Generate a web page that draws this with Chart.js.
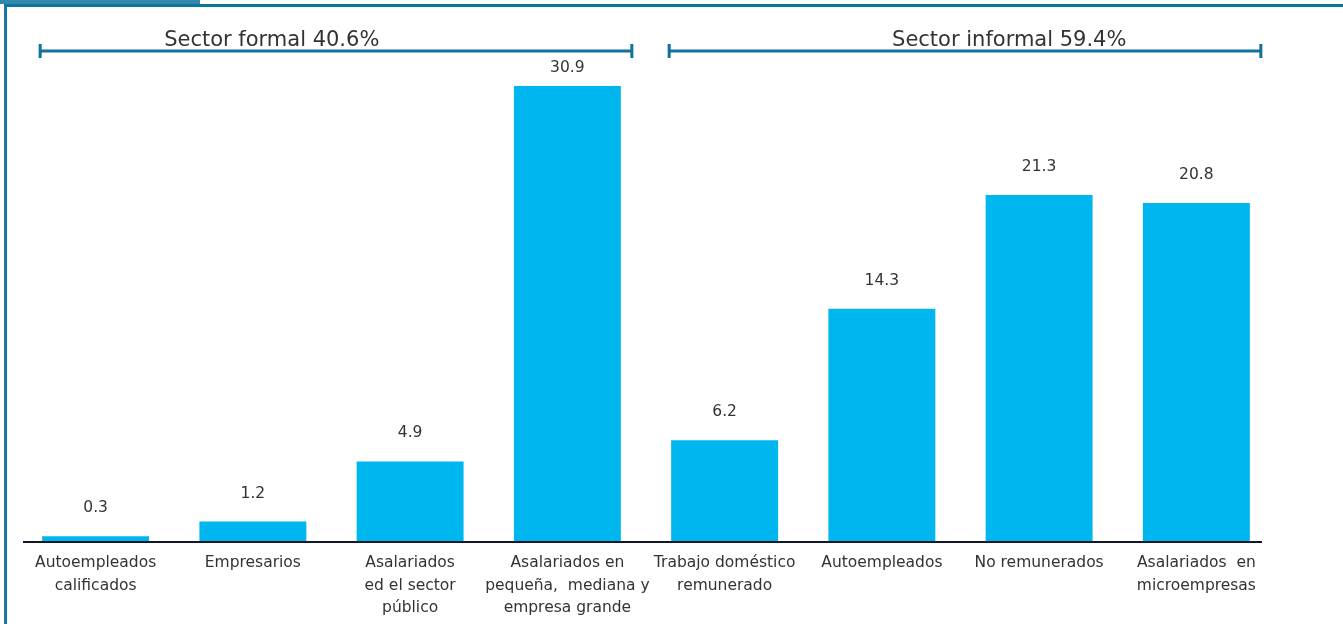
<!DOCTYPE html>
<html>
<head>
<meta charset="utf-8">
<script src="https://cdn.jsdelivr.net/npm/chart.js@4"></script>
<style>
  html, body { margin: 0; padding: 0; background: #fff; }
  #wrap { position: relative; width: 1343px; height: 624px; overflow: hidden; }
  #tab { position: absolute; left: 0; top: 0; width: 200px; height: 4px; background: #2e89aa; }
  #frame { position: absolute; left: 4px; top: 4px; right: 0; bottom: 0; border-top: 3px solid #0b75a0; border-left: 3px solid #1478a2; }
  canvas { position: absolute; left: 0; top: 0; }
</style>
</head>
<body>
<div id="wrap">
  <div id="tab"></div>
  <div id="frame"></div>
  <canvas id="chart" width="1343" height="624"></canvas>
</div>
<script>
// --- datos ---
const categories = [
  ['Autoempleados', 'calificados'],
  ['Empresarios'],
  ['Asalariados', 'ed el sector', 'público'],
  ['Asalariados en', 'pequeña,  mediana y', 'empresa grande'],
  ['Trabajo doméstico', 'remunerado'],
  ['Autoempleados'],
  ['No remunerados'],
  ['Asalariados  en', 'microempresas']
];
const shares = [0.3, 1.2, 4.9, 30.9, 6.2, 14.3, 21.3, 20.8];
const sectorNames = ['Sector formal 40.6%', 'Sector informal 59.4%'];
const sectorFrom = [0, 4];
const sectorTo = [3, 7];

const FONT = "'DejaVu Sans', sans-serif";
const TEXT = '#333333';

// etiquetas de valor encima de cada barra
const valueLabels = {
  id: 'valueLabels',
  afterDatasetsDraw(chart) {
    const { ctx, chartArea } = chart;
    const meta = chart.getDatasetMeta(0);
    ctx.save();
    ctx.font = '15.5px ' + FONT;
    ctx.fillStyle = TEXT;
    ctx.textAlign = 'center';
    ctx.textBaseline = 'middle';
    meta.data.forEach((bar, i) => {
      const clipped = bar.y < chartArea.top;
      const y = clipped ? chartArea.top - 18 : bar.y - 28;
      ctx.fillText(shares[i].toFixed(1), bar.x, y);
    });
    ctx.restore();
  }
};

// línea del eje y corchetes de sector
const sectorBrackets = {
  id: 'sectorBrackets',
  afterDraw(chart, args, opts) {
    const { ctx, chartArea, scales: { x } } = chart;
    const meta = chart.getDatasetMeta(0);
    ctx.save();

    // eje
    ctx.strokeStyle = '#111827';
    ctx.lineWidth = 2;
    ctx.beginPath();
    ctx.moveTo(chartArea.left + 6, chartArea.bottom + 1);
    ctx.lineTo(chartArea.right - 13, chartArea.bottom + 1);
    ctx.stroke();

    ctx.strokeStyle = opts.color;
    ctx.lineWidth = 3;
    ctx.font = '21px ' + FONT;
    ctx.fillStyle = TEXT;
    ctx.textAlign = 'center';
    ctx.textBaseline = 'alphabetic';
    sectorNames.forEach((name, i) => {
      const a = meta.data[sectorFrom[i]];
      const b = meta.data[sectorTo[i]];
      const x1 = a.x - a.width / 2 - 2;
      const x2 = b.x + b.width / 2 + 11;
      const y = opts.y;
      ctx.beginPath();
      ctx.moveTo(x1, y); ctx.lineTo(x2, y);
      ctx.moveTo(x1, y - 7); ctx.lineTo(x1, y + 7);
      ctx.moveTo(x2, y - 7); ctx.lineTo(x2, y + 7);
      ctx.stroke();
      ctx.fillText(name, x.getPixelForValue(opts.labelAt[i]), y - 5);
    });
    ctx.restore();
  }
};

new Chart(document.getElementById('chart'), {
  type: 'bar',
  data: {
    labels: categories,
    datasets: [{
      data: shares,
      backgroundColor: '#00b6ee',
      borderWidth: 0,
      barPercentage: 0.68,
      categoryPercentage: 1,
      clip: 0
    }]
  },
  options: {
    responsive: false,
    devicePixelRatio: 1,
    animation: false,
    layout: { padding: { left: 17, right: 68, top: 86, bottom: 0 } },
    scales: {
      x: {
        grid: { display: false },
        border: { display: false },
        ticks: {
          color: TEXT,
          font: { family: FONT, size: 15.5, lineHeight: 1.45 },
          padding: 3,
          maxRotation: 0,
          autoSkip: false
        },
        afterFit: (s) => { s.height = 83; }
      },
      y: { display: false, min: 0, max: 28 }
    },
    plugins: {
      legend: { display: false },
      tooltip: { enabled: false },
      sectorBrackets: { color: '#10729c', y: 51, labelAt: [1.12, 5.81] }
    }
  },
  plugins: [valueLabels, sectorBrackets]
});
</script>
</body>
</html>
